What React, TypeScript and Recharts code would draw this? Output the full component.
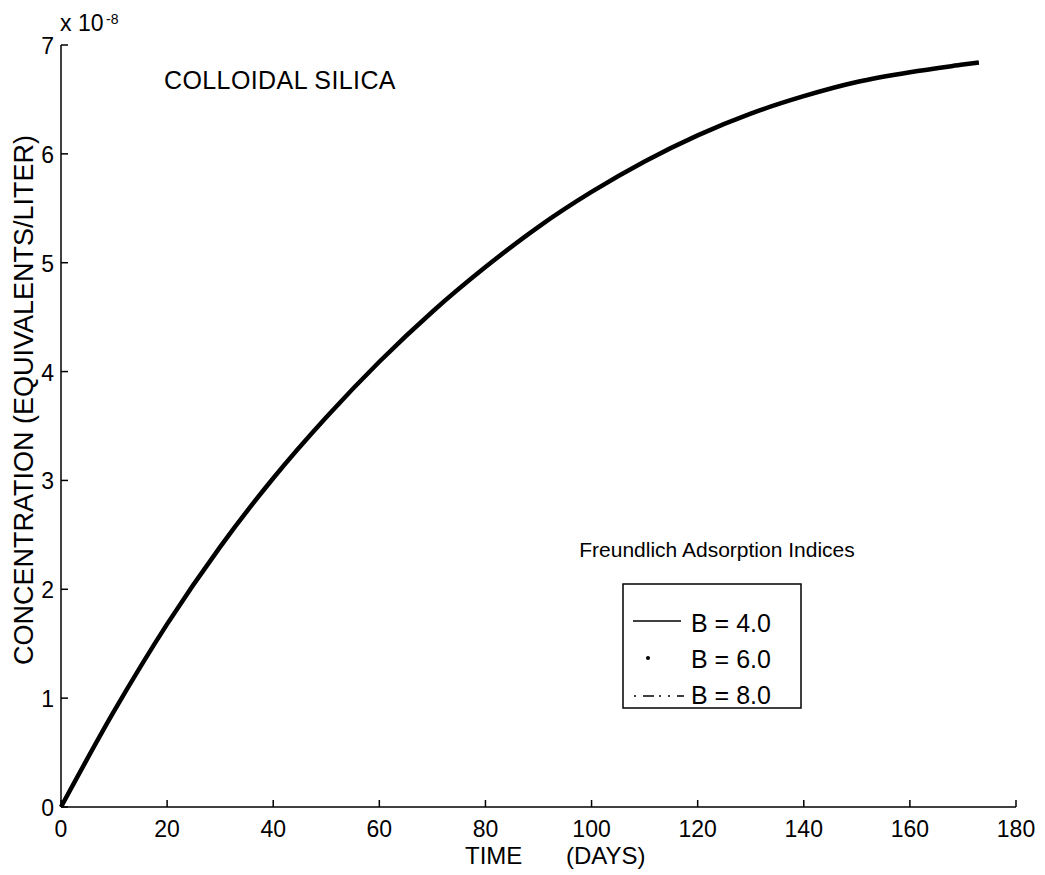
import React from 'react';
import { LineChart, Line, XAxis, YAxis, Customized } from 'recharts';

// time in days, concentration in units of 1e-8 equivalents/liter
const days = [0, 10, 20, 30, 40, 50, 60, 70, 80, 90, 100, 110, 120, 130, 140, 150, 160, 170, 173];
const concB4 = [0, 0.88, 1.68, 2.39, 3.02, 3.58, 4.09, 4.55, 4.96, 5.33, 5.65, 5.93, 6.17, 6.37, 6.53, 6.66, 6.75, 6.82, 6.84];
const concB6 = [0, 0.88, 1.68, 2.39, 3.02, 3.58, 4.09, 4.55, 4.96, 5.33, 5.65, 5.93, 6.17, 6.37, 6.53, 6.66, 6.75, 6.82, 6.84];
const concB8 = [0, 0.88, 1.68, 2.39, 3.02, 3.58, 4.09, 4.55, 4.96, 5.33, 5.65, 5.93, 6.17, 6.37, 6.53, 6.66, 6.75, 6.82, 6.84];

const xTicks = [0, 20, 40, 60, 80, 100, 120, 140, 160, 180];
const yTicks = [0, 1, 2, 3, 4, 5, 6, 7];

const seriesNames = ['B = 4.0', 'B = 6.0', 'B = 8.0'];

const data = days.map((t, i) => ({
  t,
  b4: concB4[i],
  b6: concB6[i],
  b8: concB8[i],
}));

const FONT = '"Liberation Sans", Arial, Helvetica, sans-serif';

const XTick = (props: any) => {
  const { x, y, payload } = props;
  return (
    <g>
      <line x1={x} x2={x} y1={y} y2={y - 7} stroke="#000" strokeWidth={1.5} />
      <text x={x} y={y + 30} textAnchor="middle" fontSize={23} fontFamily={FONT} fill="#000">
        {payload.value}
      </text>
    </g>
  );
};

const YTick = (props: any) => {
  const { x, y, payload } = props;
  return (
    <g>
      <line x1={x} x2={x + 7} y1={y} y2={y} stroke="#000" strokeWidth={1.5} />
      <text x={x - 7} y={y + 9} textAnchor="end" fontSize={23} fontFamily={FONT} fill="#000">
        {payload.value}
      </text>
    </g>
  );
};

const Annotations = () => (
  <g fontFamily={FONT} fill="#000">
    <text x={60} y={31} fontSize={23}>x 10</text>
    <text x={106} y={24} fontSize={14}>-8</text>
    <text x={164} y={89} fontSize={25} letterSpacing={0.4}>COLLOIDAL SILICA</text>
    <text x={465} y={864} fontSize={24}>TIME</text>
    <text x={566} y={864} fontSize={24}>(DAYS)</text>
    <text
      x={0}
      y={0}
      fontSize={27}
      textAnchor="middle"
      transform="translate(33, 400) rotate(-90)"
    >
      CONCENTRATION (EQUIVALENTS/LITER)
    </text>
  </g>
);

// legend: title above a framed key with one sample per series
const LegendKey = () => (
  <g fontFamily={FONT} fill="#000">
    <text x={717} y={557} fontSize={21} textAnchor="middle">
      Freundlich Adsorption Indices
    </text>
    <rect x={623} y={584} width={178} height={124} fill="#fff" stroke="#000" strokeWidth={1.5} />
    <line x1={633} x2={681} y1={621} y2={621} stroke="#000" strokeWidth={1.5} />
    <circle cx={648} cy={658} r={2} fill="#000" />
    <line x1={634} x2={684} y1={696} y2={696} stroke="#000" strokeWidth={1.5} strokeDasharray="2 7 11 5 2 7" />
    {seriesNames.map((name, i) => (
      <text key={name} x={691} y={632 + i * 36} fontSize={25}>
        {name}
      </text>
    ))}
  </g>
);

export default function App() {
  return (
    <div style={{ position: 'absolute', left: 0, top: 0, width: 1045, height: 875, background: '#fff' }}>
      <LineChart
        width={1045}
        height={875}
        data={data}
        margin={{ top: 45, right: 29, bottom: 0, left: 0 }}
      >
        <XAxis
          dataKey="t"
          type="number"
          domain={[0, 180]}
          ticks={xTicks}
          height={68}
          tickSize={0}
          tickMargin={0}
          tickLine={false}
          tick={<XTick />}
          axisLine={{ stroke: '#000', strokeWidth: 1.5 }}
          interval={0}
        />
        <YAxis
          type="number"
          domain={[0, 7]}
          ticks={yTicks}
          width={61}
          tickSize={0}
          tickMargin={0}
          tickLine={false}
          tick={<YTick />}
          axisLine={{ stroke: '#000', strokeWidth: 1.5 }}
          interval={0}
        />
        <Line
          dataKey="b4"
          name={seriesNames[0]}
          type="monotone"
          stroke="#000"
          strokeWidth={4.5}
          dot={false}
          isAnimationActive={false}
        />
        <Line
          dataKey="b6"
          name={seriesNames[1]}
          type="monotone"
          stroke="#000"
          strokeWidth={1.5}
          strokeDasharray="1 6"
          dot={false}
          isAnimationActive={false}
        />
        <Line
          dataKey="b8"
          name={seriesNames[2]}
          type="monotone"
          stroke="#000"
          strokeWidth={1.5}
          strokeDasharray="2 5 12 5"
          dot={false}
          isAnimationActive={false}
        />
        <Customized component={LegendKey} />
        <Customized component={Annotations} />
      </LineChart>
    </div>
  );
}
